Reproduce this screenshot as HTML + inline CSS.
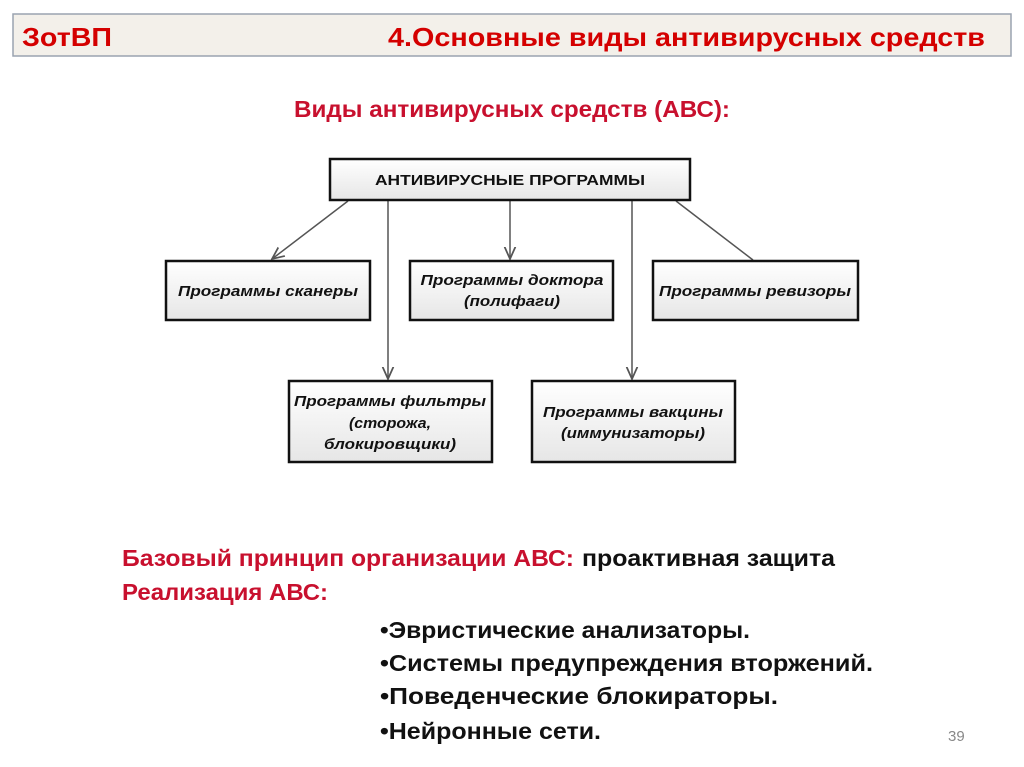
<!DOCTYPE html>
<html><head><meta charset="utf-8"><style>
html,body{margin:0;padding:0;background:#fff}
svg{display:block}
</style></head><body>
<svg width="1024" height="767" viewBox="0 0 1024 767" xmlns="http://www.w3.org/2000/svg" font-family="Liberation Sans, sans-serif">
<defs>
<linearGradient id="g" x1="0" y1="0" x2="0" y2="1">
<stop offset="0" stop-color="#ffffff"/><stop offset="1" stop-color="#e6e6e6"/>
</linearGradient>
<marker id="a" viewBox="0 0 10 10" refX="9" refY="5" markerWidth="9" markerHeight="9" orient="auto">
<path d="M0,1 L9,5 L0,9" fill="none" stroke="#555" stroke-width="1.3"/>
</marker>
</defs>
<rect x="13" y="14" width="998" height="42" fill="#f3f0ea" stroke="#9aa3b0" stroke-width="1.5"/>
<text x="22" y="46" font-size="26" font-weight="bold" fill="#d40000" textLength="90" lengthAdjust="spacingAndGlyphs">ЗотВП</text>
<text x="388" y="46" font-size="26" font-weight="bold" fill="#d40000" textLength="597" lengthAdjust="spacingAndGlyphs">4.Основные виды антивирусных средств</text>
<text x="294" y="117" font-size="23" font-weight="bold" fill="#c8102e" textLength="436" lengthAdjust="spacingAndGlyphs">Виды антивирусных средств (АВС):</text>

<g stroke="#555" stroke-width="1.5" fill="none">
<line x1="348" y1="201" x2="272" y2="259" marker-end="url(#a)"/>
<line x1="388" y1="201" x2="388" y2="379" marker-end="url(#a)"/>
<line x1="510" y1="201" x2="510" y2="259" marker-end="url(#a)"/>
<line x1="632" y1="201" x2="632" y2="379" marker-end="url(#a)"/>
<line x1="676" y1="201" x2="753" y2="260"/>
</g>
<g stroke="#111" stroke-width="2.5" fill="url(#g)">
<rect x="330" y="159" width="360" height="41"/>
<rect x="166" y="261" width="204" height="59"/>
<rect x="410" y="261" width="203" height="59"/>
<rect x="653" y="261" width="205" height="59"/>
<rect x="289" y="381" width="203" height="81"/>
<rect x="532" y="381" width="203" height="81"/>
</g>
<g font-size="15" font-weight="bold" fill="#111" text-anchor="middle">
<text x="510" y="185" textLength="270" lengthAdjust="spacingAndGlyphs">АНТИВИРУСНЫЕ ПРОГРАММЫ</text>
<g font-style="italic">
<text x="268" y="296" textLength="180" lengthAdjust="spacingAndGlyphs">Программы сканеры</text>
<text x="512" y="285" textLength="183" lengthAdjust="spacingAndGlyphs">Программы доктора</text>
<text x="512" y="306" textLength="96" lengthAdjust="spacingAndGlyphs">(полифаги)</text>
<text x="755" y="296" textLength="192" lengthAdjust="spacingAndGlyphs">Программы ревизоры</text>
<text x="390" y="406" textLength="192" lengthAdjust="spacingAndGlyphs">Программы фильтры</text>
<text x="390" y="428" textLength="82" lengthAdjust="spacingAndGlyphs">(сторожа,</text>
<text x="390" y="449" textLength="132" lengthAdjust="spacingAndGlyphs">блокировщики)</text>
<text x="633" y="417" textLength="180" lengthAdjust="spacingAndGlyphs">Программы вакцины</text>
<text x="633" y="438" textLength="144" lengthAdjust="spacingAndGlyphs">(иммунизаторы)</text>
</g>
</g>

<g font-size="23" font-weight="bold">
<text x="122" y="566" fill="#c8102e" textLength="452" lengthAdjust="spacingAndGlyphs">Базовый принцип организации АВС:</text>
<text x="582" y="566" fill="#111" textLength="253" lengthAdjust="spacingAndGlyphs">проактивная защита</text>
<text x="122" y="600" fill="#c8102e" textLength="206" lengthAdjust="spacingAndGlyphs">Реализация АВС:</text>
<g fill="#111">
<text x="380" y="638" textLength="370" lengthAdjust="spacingAndGlyphs">•Эвристические анализаторы.</text>
<text x="380" y="671" textLength="493" lengthAdjust="spacingAndGlyphs">•Системы предупреждения вторжений.</text>
<text x="380" y="704" textLength="398" lengthAdjust="spacingAndGlyphs">•Поведенческие блокираторы.</text>
<text x="380" y="739" textLength="221" lengthAdjust="spacingAndGlyphs">•Нейронные сети.</text>
</g>
</g>
<text x="948" y="741" font-size="15" fill="#888">39</text>
</svg>
</body></html>
